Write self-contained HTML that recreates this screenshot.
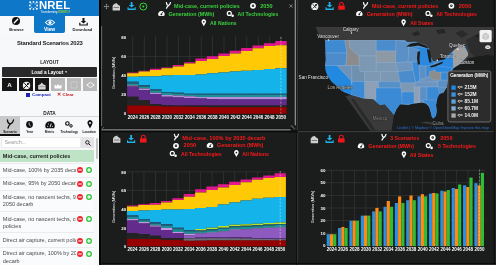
<!DOCTYPE html>
<html><head><meta charset="utf-8">
<style>
*{box-sizing:border-box}
html,body{margin:0;padding:0}
body{width:496px;height:265px;overflow:hidden;position:relative;background:#161616;font-family:"Liberation Sans",sans-serif}
#wrap{position:absolute;left:0;top:0;width:496px;height:265px;filter:blur(0.3px)}
.a{position:absolute}
.t{position:absolute;white-space:nowrap;line-height:1}
svg{position:absolute;overflow:visible}
#sb{left:0;top:0;width:99px;height:265px;background:#f7f8fa;overflow:hidden}
.row{position:absolute;left:0;width:94px;border-top:0.7px solid #ebecee;background:#fafbfc}
.rt{position:absolute;left:2.8px;width:92px;font-size:5.5px;line-height:7.3px;color:#4a4a4a;white-space:normal}
.ic{position:absolute;width:17px;height:8px;background:#fafbfc}
.rd{position:absolute;width:6px;height:6px;border-radius:50%;background:#f0222a}
.gr{position:absolute;width:6px;height:6px;border-radius:50%;background:#33c23b}
.rd:after{content:"";position:absolute;left:1.3px;top:2.45px;width:3.4px;height:1.1px;background:#fff}
.gr:after{content:"";position:absolute;left:1.2px;top:2.4px;width:3.6px;height:1.2px;background:#fff}
.gr:before{content:"";position:absolute;left:2.4px;top:1.2px;width:1.2px;height:3.6px;background:#fff}
.pn{position:absolute;background:#1e1e1e}
.ttl{position:absolute;white-space:nowrap;line-height:1;font-size:5.5px;font-weight:bold}
.lab{position:absolute;white-space:nowrap;line-height:1;font-size:4.6px;font-weight:bold;color:#fff}
</style></head>
<body>
<div id="wrap">
<!-- SIDEBAR -->
<div id="sb" class="a">
  <div class="a" style="left:0;top:0;width:99px;height:15.5px;background:#0f77c8"></div>
  <!-- NREL logo -->
  <svg style="left:29px;top:1px" width="9" height="9" viewBox="0 0 9 9"><g fill="#fff">
<circle cx="1.2" cy="1.2" r="1"/><circle cx="4.5" cy="0.9" r="0.9"/><circle cx="7.8" cy="1.2" r="1"/>
<circle cx="0.9" cy="4.5" r="0.9"/><circle cx="8.1" cy="4.5" r="0.9"/>
<circle cx="1.2" cy="7.8" r="1"/><circle cx="4.5" cy="8.1" r="0.9"/><circle cx="7.8" cy="7.8" r="1"/>
<circle cx="2.8" cy="2.8" r="0.55"/><circle cx="6.2" cy="2.8" r="0.55"/><circle cx="2.8" cy="6.2" r="0.55"/><circle cx="6.2" cy="6.2" r="0.55"/>
</g></svg>
  <div class="t" style="left:38.9px;top:-0.3px;font-size:11.3px;font-weight:bold;color:#fff;letter-spacing:0.15px">NREL</div>
  <div class="t" style="left:40.5px;top:10.6px;font-size:2.9px;color:#fff">Transforming <span style="color:#8dc63f;font-weight:bold">ENERGY</span></div>
  <!-- tabs -->
  <div class="a" style="left:0;top:15.5px;width:99px;height:18px;background:#f8f9fa"></div>
  <div class="a" style="left:33.8px;top:15px;width:31.6px;height:18px;background:#0f77c8;border-radius:0 0 2px 2px"></div>
  <svg style="left:11.8px;top:17px" width="8" height="8" viewBox="0 0 8 8"><circle cx="4" cy="4" r="4" fill="#111"/><path d="M2.3 5.7 L5.7 2.3" stroke="#fff" stroke-width="1.4" stroke-linecap="round"/></svg>
  <div class="t" style="left:0;width:33px;text-align:center;top:27.9px;font-size:4.0px;font-weight:bold;color:#1a1a1a">Browse</div>
  <svg style="left:45px;top:18.6px" width="10" height="7" viewBox="0 0 10 7"><path d="M0.4 3.5 Q5 -1.5 9.6 3.5 Q5 8.5 0.4 3.5Z" fill="none" stroke="#fff" stroke-width="1.1"/><circle cx="5" cy="3.5" r="1.6" fill="#fff"/></svg>
  <div class="t" style="left:33.8px;width:31.6px;text-align:center;top:27px;font-size:5px;font-weight:bold;color:#fff">View</div>
  <svg style="left:78.7px;top:17.5px" width="9" height="8" viewBox="0 0 9 8"><path d="M3.5 0 H5.5 V3 H7.3 L4.5 5.6 L1.7 3 H3.5Z" fill="#111"/><path d="M0.2 4.8 V7.6 H8.8 V4.8 H7.6 V6.4 H1.4 V4.8Z" fill="#111"/></svg>
  <div class="t" style="left:66px;width:33px;text-align:center;top:27.9px;font-size:4.15px;font-weight:bold;color:#1a1a1a">Download</div>

  <div class="t" style="left:17.1px;top:40.7px;font-size:5.9px;font-weight:bold;color:#222;letter-spacing:-0.2px">Standard Scenarios 2023</div>
  <div class="t" style="left:0;width:99px;text-align:center;top:60.8px;font-size:4.65px;font-weight:bold;color:#1a1a1a">LAYOUT</div>
  <div class="a" style="left:1.7px;top:67px;width:95.8px;height:9.6px;background:#2a2a2a;border-radius:1px"></div>
  <div class="t" style="left:1.7px;width:95.8px;text-align:center;top:70.5px;font-size:4.7px;font-weight:bold;color:#fff">Load a Layout <span style="font-size:3.2px;position:relative;top:-0.6px">▼</span></div>
  <!-- layout buttons -->
  <div class="a" style="left:2.3px;top:78.3px;width:14.6px;height:13.2px;background:#161616"></div>
  <div class="a" style="left:18.6px;top:78.3px;width:14.4px;height:13.2px;background:#161616"></div>
  <div class="a" style="left:34.5px;top:78.3px;width:14.6px;height:13.2px;background:#161616"></div>
  <div class="a" style="left:50.8px;top:78.3px;width:14.4px;height:13.2px;background:#b9b9b9"></div>
  <div class="a" style="left:66.7px;top:78.3px;width:14.2px;height:13.2px;background:#b9b9b9"></div>
  <div class="a" style="left:82.5px;top:78.3px;width:14.7px;height:13.2px;background:#b9b9b9"></div>
  <div class="t" style="left:2.3px;width:14.6px;text-align:center;top:81.8px;font-size:6.2px;font-weight:bold;color:#fff">A</div>
  <svg style="left:21.6px;top:80.8px" width="9" height="9" viewBox="0 0 9 9"><circle cx="4.5" cy="4.5" r="3.7" fill="#f0f0f0"/><path d="M2 7 L7 2 M2.3 2.2 L6.2 6.4" stroke="#161616" stroke-width="1"/><circle cx="5.8" cy="3.1" r="1" fill="#161616"/></svg>
  <svg style="left:38.2px;top:81.6px" width="8" height="8" viewBox="0 0 8 8"><path d="M0.2 7.6 V3.2 L2.4 2.2 L3.8 0.4 L5.2 2.2 L7.6 3.2 V7.6 Z" fill="#d6d6d6"/><rect x="1" y="4.4" width="5.8" height="0.7" fill="#888"/></svg>
  <svg style="left:54px;top:81px" width="8" height="8" viewBox="0 0 8 8"><path d="M0.5 7.5 V3.5 L2.5 5 L4 3 L5.5 5 L7.5 3.5 V7.5Z" fill="#fff"/></svg>
  <svg style="left:70px;top:81px" width="8" height="8" viewBox="0 0 8 8"><rect x="1" y="1" width="6" height="6" fill="none" stroke="#d6d6d6" stroke-width="0.6"/></svg>
  <svg style="left:85.5px;top:81px" width="9" height="8" viewBox="0 0 9 8"><path d="M0.8 4 L4.5 1.3 L8.2 4 L4.5 6.7Z" fill="none" stroke="#fff" stroke-width="0.9"/></svg>
  <div class="a" style="left:25.8px;top:93.2px;width:3.8px;height:3.6px;background:#1a24b8"></div>
  <div class="t" style="left:32px;top:93.1px;font-size:4.4px;font-weight:bold;color:#1a24b8">Compact</div>
  <div class="t" style="left:57.4px;top:92.9px;font-size:4.6px;font-weight:bold;color:#c0161c">✕</div>
  <div class="t" style="left:62.6px;top:93.1px;font-size:4.4px;font-weight:bold;color:#c0161c">Clear</div>

  <div class="t" style="left:0;width:99px;text-align:center;top:111.9px;font-size:4.7px;font-weight:bold;color:#1a1a1a">DATA</div>
  <div class="a" style="left:0;top:116.3px;width:99px;height:0.8px;background:#d6d6d8"></div>
  <!-- data tabs -->
  <div class="a" style="left:0;top:116.3px;width:19.8px;height:18px;background:#c9c9c9"></div>
  <div class="a" style="left:0;top:134px;width:19.8px;height:1.7px;background:#111"></div>
  <svg style="left:5.8px;top:118.6px" width="9" height="10" viewBox="0 0 9 10"><path d="M1.4 0.8 Q1.4 4.2 4.2 5.2 M7.6 0.8 Q7 4 4.2 5.2 Q2.4 6.6 2 9.2" fill="none" stroke="#111" stroke-width="1.3" stroke-linecap="round"/></svg>
  <svg style="left:26.4px;top:121.4px" width="7" height="7" viewBox="0 0 7 7"><circle cx="3.5" cy="3.5" r="3.4" fill="#111"/><path d="M3.2 1.5 V3.8 L4.8 5" stroke="#fff" stroke-width="0.7" fill="none"/></svg>
  <svg style="left:44.8px;top:120.6px" width="10" height="8" viewBox="0 0 10 8"><path d="M0.9 7.2 A4.7 4.7 0 1 1 9.1 7.2 Z" fill="#111"/><circle cx="2.6" cy="5.2" r="0.55" fill="#f4f4f4"/><circle cx="3.4" cy="3" r="0.55" fill="#f4f4f4"/><circle cx="7.4" cy="5.2" r="0.55" fill="#f4f4f4"/><path d="M5 6.2 L6.3 2.6" stroke="#f4f4f4" stroke-width="0.9"/></svg>
  <svg style="left:65.4px;top:121px" width="8" height="7" viewBox="0 0 8 7"><circle cx="2.4" cy="2.5" r="1.75" fill="none" stroke="#111" stroke-width="1.2"/><circle cx="6" cy="4.9" r="1.25" fill="none" stroke="#111" stroke-width="1"/></svg>
  <svg style="left:86.6px;top:120px" width="6" height="9" viewBox="0 0 6 9"><path d="M3 8.5 L0.8 4.2 A2.6 2.6 0 1 1 5.2 4.2Z" fill="#111"/><circle cx="3" cy="3" r="1" fill="#f4f4f6"/></svg>
  <div class="t" style="left:0;width:19.8px;text-align:center;top:131.4px;font-size:3.2px;font-weight:bold;color:#151515">Scenario</div>
  <div class="t" style="left:19.8px;width:19.8px;text-align:center;top:131.4px;font-size:3.2px;font-weight:bold;color:#151515">Year</div>
  <div class="t" style="left:39.6px;width:19.8px;text-align:center;top:131.4px;font-size:3.2px;font-weight:bold;color:#151515">Metric</div>
  <div class="t" style="left:59.4px;width:19.8px;text-align:center;top:131.4px;font-size:3.2px;font-weight:bold;color:#151515">Technology</div>
  <div class="t" style="left:79.2px;width:19.8px;text-align:center;top:131.4px;font-size:3.2px;font-weight:bold;color:#151515">Location</div>
  <!-- search -->
  <div class="a" style="left:0.5px;top:136.8px;width:80px;height:11.2px;background:#fff;border:0.5px solid #ececee"></div>
  <div class="t" style="left:4.4px;top:139.6px;font-size:5.5px;color:#9a9a9a">Search...</div>
  <div class="a" style="left:80.5px;top:136.8px;width:13px;height:11.2px;background:#e4e4e6"></div>
  <svg style="left:84.7px;top:139.8px" width="6" height="6" viewBox="0 0 6 6"><circle cx="2.4" cy="2.4" r="1.7" fill="none" stroke="#111" stroke-width="0.9"/><path d="M3.6 3.6 L5.5 5.5" stroke="#111" stroke-width="1"/></svg>
  <div class="a" style="left:95.7px;top:138.1px;width:2.1px;height:20.5px;background:#c4c4c4;border-radius:1px"></div>
  <!-- list -->
  <div class="a" style="left:0;top:149.8px;width:93.5px;height:12.6px;background:#bee3c6"></div>
  <div class="t" style="left:2.8px;top:153.8px;font-size:5.5px;font-weight:bold;color:#222">Mid-case, current policies</div>

  <div class="row" style="top:162.5px;height:14px"></div>
  <div class="rt" style="top:167px">Mid-case, 100% by 2035 decarb</div>
  <div class="row" style="top:176.5px;height:13.5px"></div>
  <div class="rt" style="top:180.1px">Mid-case, 95% by 2050 decarb</div>
  <div class="row" style="top:190px;height:21px"></div>
  <div class="rt" style="top:193.9px">Mid-case, no nascent techs, 95% by 2050 decarb</div>
  <div class="row" style="top:211px;height:21px"></div>
  <div class="rt" style="top:215.5px">Mid-case, no nascent techs, current policies</div>
  <div class="row" style="top:232px;height:14.5px"></div>
  <div class="rt" style="top:237px">Direct air capture, current policies</div>
  <div class="row" style="top:246.5px;height:20px"></div>
  <div class="rt" style="top:250.4px">Direct air capture, 100% by 2035 decarb</div>

  <div class="ic" style="left:75.5px;top:166.2px"></div><svg style="left:77.2px;top:167.2px" width="6" height="6" viewBox="0 0 6 6"><circle cx="3" cy="3" r="2.95" fill="#f0222a"/><rect x="1.3" y="2.45" width="3.4" height="1.1" fill="#fff"/></svg><svg style="left:86.1px;top:167.2px" width="6" height="6" viewBox="0 0 6 6"><circle cx="3" cy="3" r="2.95" fill="#33c23b"/><rect x="1.2" y="2.4" width="3.6" height="1.2" fill="#fff"/><rect x="2.4" y="1.2" width="1.2" height="3.6" fill="#fff"/></svg>
  <div class="ic" style="left:75.5px;top:179.8px"></div><svg style="left:77.2px;top:180.8px" width="6" height="6" viewBox="0 0 6 6"><circle cx="3" cy="3" r="2.95" fill="#f0222a"/><rect x="1.3" y="2.45" width="3.4" height="1.1" fill="#fff"/></svg><svg style="left:86.1px;top:180.8px" width="6" height="6" viewBox="0 0 6 6"><circle cx="3" cy="3" r="2.95" fill="#33c23b"/><rect x="1.2" y="2.4" width="3.6" height="1.2" fill="#fff"/><rect x="2.4" y="1.2" width="1.2" height="3.6" fill="#fff"/></svg>
  <div class="ic" style="left:75.5px;top:193.4px"></div><svg style="left:77.2px;top:194.4px" width="6" height="6" viewBox="0 0 6 6"><circle cx="3" cy="3" r="2.95" fill="#f0222a"/><rect x="1.3" y="2.45" width="3.4" height="1.1" fill="#fff"/></svg><svg style="left:86.1px;top:194.4px" width="6" height="6" viewBox="0 0 6 6"><circle cx="3" cy="3" r="2.95" fill="#33c23b"/><rect x="1.2" y="2.4" width="3.6" height="1.2" fill="#fff"/><rect x="2.4" y="1.2" width="1.2" height="3.6" fill="#fff"/></svg>
  <div class="ic" style="left:75.5px;top:215.0px"></div><svg style="left:77.2px;top:216.0px" width="6" height="6" viewBox="0 0 6 6"><circle cx="3" cy="3" r="2.95" fill="#f0222a"/><rect x="1.3" y="2.45" width="3.4" height="1.1" fill="#fff"/></svg><svg style="left:86.1px;top:216.0px" width="6" height="6" viewBox="0 0 6 6"><circle cx="3" cy="3" r="2.95" fill="#33c23b"/><rect x="1.2" y="2.4" width="3.6" height="1.2" fill="#fff"/><rect x="2.4" y="1.2" width="1.2" height="3.6" fill="#fff"/></svg>
  <div class="ic" style="left:75.5px;top:236.5px"></div><svg style="left:77.2px;top:237.5px" width="6" height="6" viewBox="0 0 6 6"><circle cx="3" cy="3" r="2.95" fill="#f0222a"/><rect x="1.3" y="2.45" width="3.4" height="1.1" fill="#fff"/></svg><svg style="left:86.1px;top:237.5px" width="6" height="6" viewBox="0 0 6 6"><circle cx="3" cy="3" r="2.95" fill="#33c23b"/><rect x="1.2" y="2.4" width="3.6" height="1.2" fill="#fff"/><rect x="2.4" y="1.2" width="1.2" height="3.6" fill="#fff"/></svg>
  <div class="ic" style="left:75.5px;top:249.6px"></div><svg style="left:77.2px;top:250.6px" width="6" height="6" viewBox="0 0 6 6"><circle cx="3" cy="3" r="2.95" fill="#f0222a"/><rect x="1.3" y="2.45" width="3.4" height="1.1" fill="#fff"/></svg><svg style="left:86.1px;top:250.6px" width="6" height="6" viewBox="0 0 6 6"><circle cx="3" cy="3" r="2.95" fill="#33c23b"/><rect x="1.2" y="2.4" width="3.6" height="1.2" fill="#fff"/><rect x="2.4" y="1.2" width="1.2" height="3.6" fill="#fff"/></svg>
</div>
<div class="a" style="left:99px;top:0;width:2px;height:265px;background:#050505"></div>

<!-- PANELS_START -->
<svg style="left:0;top:0" width="496" height="265" viewBox="0 0 496 265" font-family="Liberation Sans, sans-serif">
<rect x="101" y="0" width="395" height="265" fill="#1b1c1c"/>
<rect x="297.1" y="0" width="1" height="265" fill="#3a3a3a"/>
<rect x="101" y="127.9" width="194" height="1" fill="#0e0e0e"/>
<rect x="101" y="130.5" width="395" height="2" fill="#0c0c0c"/>
<rect x="298" y="131.2" width="198" height="1" fill="#4a4a4a"/>
<rect x="101" y="128.9" width="189.6" height="1.6" fill="#6e6e6e"/>
<rect x="294.7" y="0" width="1.3" height="125.3" fill="#8a8a8a"/>
<path d="M291 125.3 L294.7 129.2" stroke="#8a8a8a" stroke-width="1"/>
<rect x="494" y="0" width="2" height="265" fill="#222"/>
<rect x="493.8" y="0" width="0.9" height="265" fill="#080808"/>
<rect x="101" y="263" width="395" height="2" fill="#262626"/>
<rect x="101" y="262.9" width="395" height="0.9" fill="#080808"/>
<rect x="296.3" y="132" width="0.8" height="133" fill="#0a0a0a"/>
<rect x="101.4" y="0" width="0.7" height="265" fill="#242424"/>
<rect x="101.1" y="26" width="1" height="100" fill="#6a6a6a"/>
<path d="M101.8 129.2 L104 127" stroke="#6a6a6a" stroke-width="0.8"/>
<path d="M103.9 6.5 H109.1 M106.5 3.9 V9.1" stroke="#9a9a9a" stroke-width="0.7"/><path d="M103.7 6.5 l1 -1 v2z M109.3 6.5 l-1 -1 v2z M106.5 3.7 l-1 1 h2z M106.5 9.3 l-1 -1 h2z" fill="#9a9a9a"/>
<g transform="translate(112.6,3)"><path d="M0 7.4 V3 L1.4 1 L4.5 0 L4.5 1 L7.4 3 V7.4 Z" fill="#cfcfcf"/><rect x="1" y="4.2" width="5.4" height="0.8" fill="#666"/></g>
<g transform="translate(127.5,2)"><path d="M3.2 0 H5 V3 H7 L4.1 5.6 L1.2 3 H3.2Z" fill="#1fb3ec"/><path d="M0 5.2 V8 H8.2 V5.2 H7.1 V6.5 H1.1 V5.2Z" fill="#1fb3ec"/></g>
<circle cx="143.3" cy="6.5" r="3.5" fill="none" stroke="#3ad23e" stroke-width="1"/><circle cx="143.3" cy="6.5" r="1.1" fill="#3ad23e"/>
<path d="M166.4 2.5999999999999996 Q166.6 5.0 168.3 5.699999999999999 M170.5 2.5999999999999996 Q169.9 4.8 168.3 5.699999999999999 Q167.1 6.6 166.5 8.2" fill="none" stroke="#fff" stroke-width="1.25" stroke-linecap="round"/>
<text x="174.1" y="7.550000000000001" font-size="5.5" font-weight="bold" fill="#3ad23e" text-anchor="start"  textLength="65.6" lengthAdjust="spacingAndGlyphs">Mid-case, current policies</text>
<circle cx="253" cy="5.8" r="2.9" fill="#fff"/><circle cx="253" cy="5.8" r="1.25" fill="#1b1c1c"/><circle cx="253" cy="5.8" r="0.45" fill="#fff"/>
<text x="260.2" y="7.550000000000001" font-size="5.5" font-weight="bold" fill="#3ad23e" text-anchor="start"  textLength="12.4" lengthAdjust="spacingAndGlyphs">2050</text>
<path d="M289.4 4.4 L292.6 7.6 M292.6 4.4 L289.4 7.6" stroke="#9a9a9a" stroke-width="0.75"/>
<path d="M158.3 15.4 A3.3 3.3 0 1 1 164.5 15.4 Q161.4 16.8 158.3 15.4Z" fill="#fff"/><circle cx="161.4" cy="14.4" r="0.9" fill="#1b1c1c"/><path d="M161.4 14.4 L162.70000000000002 12.0" stroke="#1b1c1c" stroke-width="0.8"/>
<text x="168.4" y="15.750000000000002" font-size="5.5" font-weight="bold" fill="#3ad23e" text-anchor="start"  textLength="46.0" lengthAdjust="spacingAndGlyphs">Generation (MWh)</text>
<circle cx="229.3" cy="13.399999999999999" r="2" fill="none" stroke="#fff" stroke-width="1.2"/><circle cx="232.6" cy="15.7" r="1.3" fill="#fff"/>
<text x="237.6" y="15.750000000000002" font-size="5.5" font-weight="bold" fill="#3ad23e" text-anchor="start"  textLength="40.7" lengthAdjust="spacingAndGlyphs">All Technologies</text>
<path d="M203.8 26.3 L201.8 22.7 A2.3 2.3 0 1 1 205.8 22.7 Z" fill="#fff"/><circle cx="203.8" cy="21.8" r="0.85" fill="#1b1c1c"/>
<text x="210" y="25.15" font-size="5.5" font-weight="bold" fill="#3ad23e" text-anchor="start"  textLength="26.7" lengthAdjust="spacingAndGlyphs">All Nations</text>
<rect x="132.50" y="36.2" width="0.6" height="77.5" fill="#3a3a3a"/>
<rect x="143.90" y="36.2" width="0.6" height="77.5" fill="#3a3a3a"/>
<rect x="155.30" y="36.2" width="0.6" height="77.5" fill="#3a3a3a"/>
<rect x="166.70" y="36.2" width="0.6" height="77.5" fill="#3a3a3a"/>
<rect x="178.10" y="36.2" width="0.6" height="77.5" fill="#3a3a3a"/>
<rect x="189.50" y="36.2" width="0.6" height="77.5" fill="#3a3a3a"/>
<rect x="200.90" y="36.2" width="0.6" height="77.5" fill="#3a3a3a"/>
<rect x="212.30" y="36.2" width="0.6" height="77.5" fill="#3a3a3a"/>
<rect x="223.70" y="36.2" width="0.6" height="77.5" fill="#3a3a3a"/>
<rect x="235.10" y="36.2" width="0.6" height="77.5" fill="#3a3a3a"/>
<rect x="246.50" y="36.2" width="0.6" height="77.5" fill="#3a3a3a"/>
<rect x="257.90" y="36.2" width="0.6" height="77.5" fill="#3a3a3a"/>
<rect x="269.30" y="36.2" width="0.6" height="77.5" fill="#3a3a3a"/>
<rect x="280.70" y="36.2" width="0.6" height="77.5" fill="#3a3a3a"/>
<rect x="127.1" y="56.1" width="159.6" height="0.6" fill="#3a3a3a"/>
<rect x="127.1" y="75.0" width="159.6" height="0.6" fill="#3a3a3a"/>
<rect x="127.1" y="93.9" width="159.6" height="0.6" fill="#3a3a3a"/>
<path d="M127.1 72.5 L138.5 72.5 L138.5 70.7 L149.9 70.7 L149.9 68.7 L161.3 68.7 L161.3 67.4 L172.7 67.4 L172.7 65.1 L184.1 65.1 L184.1 62.3 L195.5 62.3 L195.5 58.6 L206.9 58.6 L206.9 56.2 L218.3 56.2 L218.3 53.4 L229.7 53.4 L229.7 50.7 L241.1 50.7 L241.1 47.9 L252.5 47.9 L252.5 45.6 L263.9 45.6 L263.9 43.2 L275.3 43.2 L275.3 41.0 L286.7 41.0 L286.7 45.3 L275.3 45.3 L275.3 46.1 L263.9 46.1 L263.9 48.3 L252.5 48.3 L252.5 51.0 L241.1 51.0 L241.1 53.4 L229.7 53.4 L229.7 55.9 L218.3 55.9 L218.3 59.0 L206.9 59.0 L206.9 60.9 L195.5 60.9 L195.5 63.6 L184.1 63.6 L184.1 66.5 L172.7 66.5 L172.7 68.2 L161.3 68.2 L161.3 69.9 L149.9 69.9 L149.9 71.6 L138.5 71.6 L138.5 73.3 L127.1 73.3Z" fill="#e2178f"/>
<path d="M127.1 73.3 L138.5 73.3 L138.5 71.6 L149.9 71.6 L149.9 69.9 L161.3 69.9 L161.3 68.2 L172.7 68.2 L172.7 66.5 L184.1 66.5 L184.1 63.6 L195.5 63.6 L195.5 60.9 L206.9 60.9 L206.9 59.0 L218.3 59.0 L218.3 55.9 L229.7 55.9 L229.7 53.4 L241.1 53.4 L241.1 51.0 L252.5 51.0 L252.5 48.3 L263.9 48.3 L263.9 46.1 L275.3 46.1 L275.3 45.3 L286.7 45.3 L286.7 68.2 L275.3 68.2 L275.3 69.0 L263.9 69.0 L263.9 69.9 L252.5 69.9 L252.5 70.7 L241.1 70.7 L241.1 71.6 L229.7 71.6 L229.7 72.4 L218.3 72.4 L218.3 73.3 L206.9 73.3 L206.9 74.5 L195.5 74.5 L195.5 74.9 L184.1 74.9 L184.1 75.1 L172.7 75.1 L172.7 75.6 L161.3 75.6 L161.3 76.2 L149.9 76.2 L149.9 76.5 L138.5 76.5 L138.5 76.7 L127.1 76.7Z" fill="#ffc905"/>
<path d="M127.1 76.7 L138.5 76.7 L138.5 76.5 L149.9 76.5 L149.9 76.2 L161.3 76.2 L161.3 75.6 L172.7 75.6 L172.7 75.1 L184.1 75.1 L184.1 74.9 L195.5 74.9 L195.5 74.5 L206.9 74.5 L206.9 73.3 L218.3 73.3 L218.3 72.4 L229.7 72.4 L229.7 71.6 L241.1 71.6 L241.1 70.7 L252.5 70.7 L252.5 69.9 L263.9 69.9 L263.9 69.0 L275.3 69.0 L275.3 68.2 L286.7 68.2 L286.7 93.7 L275.3 93.7 L275.3 93.7 L263.9 93.7 L263.9 93.7 L252.5 93.7 L252.5 93.7 L241.1 93.7 L241.1 93.7 L229.7 93.7 L229.7 93.7 L218.3 93.7 L218.3 93.7 L206.9 93.7 L206.9 93.7 L195.5 93.7 L195.5 93.7 L184.1 93.7 L184.1 92.8 L172.7 92.8 L172.7 92.0 L161.3 92.0 L161.3 88.9 L149.9 88.9 L149.9 85.2 L138.5 85.2 L138.5 81.8 L127.1 81.8Z" fill="#14b4ea"/>
<path d="M127.1 81.8 L138.5 81.8 L138.5 85.2 L149.9 85.2 L149.9 88.9 L161.3 88.9 L161.3 92.0 L172.7 92.0 L172.7 92.8 L184.1 92.8 L184.1 93.7 L195.5 93.7 L195.5 93.7 L206.9 93.7 L206.9 93.7 L218.3 93.7 L218.3 93.7 L229.7 93.7 L229.7 93.7 L241.1 93.7 L241.1 93.7 L252.5 93.7 L252.5 93.7 L263.9 93.7 L263.9 93.7 L275.3 93.7 L275.3 93.7 L286.7 93.7 L286.7 95.0 L275.3 95.0 L275.3 95.0 L263.9 95.0 L263.9 95.0 L252.5 95.0 L252.5 95.0 L241.1 95.0 L241.1 95.0 L229.7 95.0 L229.7 95.0 L218.3 95.0 L218.3 95.0 L206.9 95.0 L206.9 95.0 L195.5 95.0 L195.5 94.5 L184.1 94.5 L184.1 93.8 L172.7 93.8 L172.7 93.0 L161.3 93.0 L161.3 90.6 L149.9 90.6 L149.9 86.5 L138.5 86.5 L138.5 83.5 L127.1 83.5Z" fill="#1d5d80"/>
<path d="M127.1 83.5 L138.5 83.5 L138.5 86.5 L149.9 86.5 L149.9 90.6 L161.3 90.6 L161.3 93.0 L172.7 93.0 L172.7 93.8 L184.1 93.8 L184.1 94.5 L195.5 94.5 L195.5 95.0 L206.9 95.0 L206.9 95.0 L218.3 95.0 L218.3 95.0 L229.7 95.0 L229.7 95.0 L241.1 95.0 L241.1 95.0 L252.5 95.0 L252.5 95.0 L263.9 95.0 L263.9 95.0 L275.3 95.0 L275.3 95.0 L286.7 95.0 L286.7 97.0 L275.3 97.0 L275.3 97.0 L263.9 97.0 L263.9 97.0 L252.5 97.0 L252.5 97.0 L241.1 97.0 L241.1 97.0 L229.7 97.0 L229.7 97.0 L218.3 97.0 L218.3 97.0 L206.9 97.0 L206.9 97.0 L195.5 97.0 L195.5 96.2 L184.1 96.2 L184.1 95.4 L172.7 95.4 L172.7 95.0 L161.3 95.0 L161.3 92.8 L149.9 92.8 L149.9 88.6 L138.5 88.6 L138.5 85.5 L127.1 85.5Z" fill="#1f8f96"/>
<path d="M127.1 85.5 L138.5 85.5 L138.5 88.6 L149.9 88.6 L149.9 92.8 L161.3 92.8 L161.3 95.0 L172.7 95.0 L172.7 95.4 L184.1 95.4 L184.1 96.2 L195.5 96.2 L195.5 97.0 L206.9 97.0 L206.9 97.0 L218.3 97.0 L218.3 97.0 L229.7 97.0 L229.7 97.0 L241.1 97.0 L241.1 97.0 L252.5 97.0 L252.5 97.0 L263.9 97.0 L263.9 97.0 L275.3 97.0 L275.3 97.0 L286.7 97.0 L286.7 99.6 L275.3 99.6 L275.3 99.6 L263.9 99.6 L263.9 99.6 L252.5 99.6 L252.5 99.6 L241.1 99.6 L241.1 99.5 L229.7 99.5 L229.7 99.4 L218.3 99.4 L218.3 99.2 L206.9 99.2 L206.9 98.6 L195.5 98.6 L195.5 97.9 L184.1 97.9 L184.1 97.4 L172.7 97.4 L172.7 96.7 L161.3 96.7 L161.3 94.0 L149.9 94.0 L149.9 90.3 L138.5 90.3 L138.5 86.5 L127.1 86.5Z" fill="#b58fdc"/>
<path d="M127.1 86.5 L138.5 86.5 L138.5 90.3 L149.9 90.3 L149.9 94.0 L161.3 94.0 L161.3 96.7 L172.7 96.7 L172.7 97.4 L184.1 97.4 L184.1 97.9 L195.5 97.9 L195.5 98.6 L206.9 98.6 L206.9 99.2 L218.3 99.2 L218.3 99.4 L229.7 99.4 L229.7 99.5 L241.1 99.5 L241.1 99.6 L252.5 99.6 L252.5 99.6 L263.9 99.6 L263.9 99.6 L275.3 99.6 L275.3 99.6 L286.7 99.6 L286.7 105.6 L275.3 105.6 L275.3 105.6 L263.9 105.6 L263.9 105.6 L252.5 105.6 L252.5 105.6 L241.1 105.6 L241.1 105.6 L229.7 105.6 L229.7 105.6 L218.3 105.6 L218.3 105.6 L206.9 105.6 L206.9 105.6 L195.5 105.6 L195.5 105.6 L184.1 105.6 L184.1 105.6 L172.7 105.6 L172.7 105.2 L161.3 105.2 L161.3 103.9 L149.9 103.9 L149.9 100.1 L138.5 100.1 L138.5 96.7 L127.1 96.7Z" fill="#632b8c"/>
<path d="M127.1 96.7 L138.5 96.7 L138.5 100.1 L149.9 100.1 L149.9 103.9 L161.3 103.9 L161.3 105.2 L172.7 105.2 L172.7 105.6 L184.1 105.6 L184.1 105.6 L195.5 105.6 L195.5 105.6 L206.9 105.6 L206.9 105.6 L218.3 105.6 L218.3 105.6 L229.7 105.6 L229.7 105.6 L241.1 105.6 L241.1 105.6 L252.5 105.6 L252.5 105.6 L263.9 105.6 L263.9 105.6 L275.3 105.6 L275.3 105.6 L286.7 105.6 L286.7 107.3 L275.3 107.3 L275.3 107.3 L263.9 107.3 L263.9 107.3 L252.5 107.3 L252.5 107.3 L241.1 107.3 L241.1 107.3 L229.7 107.3 L229.7 107.3 L218.3 107.3 L218.3 107.2 L206.9 107.2 L206.9 107.0 L195.5 107.0 L195.5 106.8 L184.1 106.8 L184.1 106.6 L172.7 106.6 L172.7 106.4 L161.3 106.4 L161.3 106.1 L149.9 106.1 L149.9 105.6 L138.5 105.6 L138.5 105.6 L127.1 105.6Z" fill="#242424"/>
<path d="M127.1 105.6 L138.5 105.6 L138.5 105.6 L149.9 105.6 L149.9 106.1 L161.3 106.1 L161.3 106.4 L172.7 106.4 L172.7 106.6 L184.1 106.6 L184.1 106.8 L195.5 106.8 L195.5 107.0 L206.9 107.0 L206.9 107.2 L218.3 107.2 L218.3 107.3 L229.7 107.3 L229.7 107.3 L241.1 107.3 L241.1 107.3 L252.5 107.3 L252.5 107.3 L263.9 107.3 L263.9 107.3 L275.3 107.3 L275.3 107.3 L286.7 107.3 L286.7 113.7 L275.3 113.7 L275.3 113.7 L263.9 113.7 L263.9 113.7 L252.5 113.7 L252.5 113.7 L241.1 113.7 L241.1 113.7 L229.7 113.7 L229.7 113.7 L218.3 113.7 L218.3 113.7 L206.9 113.7 L206.9 113.7 L195.5 113.7 L195.5 113.7 L184.1 113.7 L184.1 113.7 L172.7 113.7 L172.7 113.7 L161.3 113.7 L161.3 113.7 L149.9 113.7 L149.9 113.7 L138.5 113.7 L138.5 113.7 L127.1 113.7Z" fill="#960000"/>
<path d="M280.9 37 V113.7" stroke="#e8e8e8" stroke-width="0.6" stroke-dasharray="2 1.4" opacity="0.8"/>
<text x="126.2" y="39.1" font-size="4.4" font-weight="bold" fill="#fff" text-anchor="end" >80</text>
<text x="126.2" y="58.0" font-size="4.4" font-weight="bold" fill="#fff" text-anchor="end" >60</text>
<text x="126.2" y="76.89999999999999" font-size="4.4" font-weight="bold" fill="#fff" text-anchor="end" >40</text>
<text x="126.2" y="95.8" font-size="4.4" font-weight="bold" fill="#fff" text-anchor="end" >20</text>
<text x="126.2" y="115.0" font-size="4.4" font-weight="bold" fill="#fff" text-anchor="end" >0</text>
<text x="132.8" y="118.7" font-size="4.5" font-weight="bold" fill="#fff" text-anchor="middle" >2024</text>
<text x="144.2" y="118.7" font-size="4.5" font-weight="bold" fill="#fff" text-anchor="middle" >2026</text>
<text x="155.6" y="118.7" font-size="4.5" font-weight="bold" fill="#fff" text-anchor="middle" >2028</text>
<text x="167.0" y="118.7" font-size="4.5" font-weight="bold" fill="#fff" text-anchor="middle" >2030</text>
<text x="178.4" y="118.7" font-size="4.5" font-weight="bold" fill="#fff" text-anchor="middle" >2032</text>
<text x="189.8" y="118.7" font-size="4.5" font-weight="bold" fill="#fff" text-anchor="middle" >2034</text>
<text x="201.2" y="118.7" font-size="4.5" font-weight="bold" fill="#fff" text-anchor="middle" >2036</text>
<text x="212.6" y="118.7" font-size="4.5" font-weight="bold" fill="#fff" text-anchor="middle" >2038</text>
<text x="224.0" y="118.7" font-size="4.5" font-weight="bold" fill="#fff" text-anchor="middle" >2040</text>
<text x="235.4" y="118.7" font-size="4.5" font-weight="bold" fill="#fff" text-anchor="middle" >2042</text>
<text x="246.8" y="118.7" font-size="4.5" font-weight="bold" fill="#fff" text-anchor="middle" >2044</text>
<text x="258.2" y="118.7" font-size="4.5" font-weight="bold" fill="#fff" text-anchor="middle" >2046</text>
<text x="269.6" y="118.7" font-size="4.5" font-weight="bold" fill="#fff" text-anchor="middle" >2048</text>
<text x="281.0" y="118.7" font-size="4.5" font-weight="bold" fill="#fff" text-anchor="middle" >2050</text>
<text x="0" y="0" font-size="3.95" fill="#fff" text-anchor="middle" transform="translate(114.7 72.8) rotate(-90)">Generation (MWh)</text>
<g transform="translate(113,135.4)"><path d="M0 7.4 V3 L1.4 1 L4.5 0 L4.5 1 L7.4 3 V7.4 Z" fill="#cfcfcf"/><rect x="1" y="4.2" width="5.4" height="0.8" fill="#666"/></g>
<g transform="translate(127,135)"><path d="M3.2 0 H5 V3 H7 L4.1 5.6 L1.2 3 H3.2Z" fill="#1fb3ec"/><path d="M0 5.2 V8 H8.2 V5.2 H7.1 V6.5 H1.1 V5.2Z" fill="#1fb3ec"/></g>
<g transform="translate(139.6,134.8)"><path d="M1.8 3.4 V2.4 A1.9 1.9 0 0 1 5.6 2.4 V3.4" fill="none" stroke="#f0161b" stroke-width="1.1"/><rect x="0.4" y="3.4" width="6.6" height="4.4" rx="0.6" fill="#f0161b"/></g>
<path d="M174.4 134.3 Q174.6 136.70000000000002 176.3 137.4 M178.5 134.3 Q177.9 136.5 176.3 137.4 Q175.1 138.3 174.5 139.9" fill="none" stroke="#fff" stroke-width="1.25" stroke-linecap="round"/>
<text x="182.3" y="139.85" font-size="5.5" font-weight="bold" fill="#fa1a1a" text-anchor="start"  textLength="83.2" lengthAdjust="spacingAndGlyphs">Mid-case, 100% by 2035 decarb</text>
<circle cx="176" cy="145.8" r="2.9" fill="#fff"/><circle cx="176" cy="145.8" r="1.25" fill="#1b1c1c"/><circle cx="176" cy="145.8" r="0.45" fill="#fff"/>
<text x="183.6" y="147.45000000000002" font-size="5.5" font-weight="bold" fill="#fa1a1a" text-anchor="start"  textLength="12.6" lengthAdjust="spacingAndGlyphs">2050</text>
<path d="M206.9 147.29999999999998 A3.3 3.3 0 1 1 213.1 147.29999999999998 Q210 148.7 206.9 147.29999999999998Z" fill="#fff"/><circle cx="210" cy="146.29999999999998" r="0.9" fill="#1b1c1c"/><path d="M210 146.29999999999998 L211.3 143.89999999999998" stroke="#1b1c1c" stroke-width="0.8"/>
<text x="217.1" y="147.45000000000002" font-size="5.5" font-weight="bold" fill="#fa1a1a" text-anchor="start"  textLength="46.3" lengthAdjust="spacingAndGlyphs">Generation (MWh)</text>
<circle cx="172.3" cy="153.39999999999998" r="2" fill="none" stroke="#fff" stroke-width="1.2"/><circle cx="175.6" cy="155.7" r="1.3" fill="#fff"/>
<text x="181" y="155.95000000000002" font-size="5.5" font-weight="bold" fill="#fa1a1a" text-anchor="start"  textLength="40.7" lengthAdjust="spacingAndGlyphs">All Technologies</text>
<path d="M236.4 157.10000000000002 L234.4 153.5 A2.3 2.3 0 1 1 238.4 153.5 Z" fill="#fff"/><circle cx="236.4" cy="152.60000000000002" r="0.85" fill="#1b1c1c"/>
<text x="242.3" y="155.95000000000002" font-size="5.5" font-weight="bold" fill="#fa1a1a" text-anchor="start"  textLength="26.6" lengthAdjust="spacingAndGlyphs">All Nations</text>
<rect x="132.28" y="171.6" width="0.6" height="74.6" fill="#3a3a3a"/>
<rect x="143.64" y="171.6" width="0.6" height="74.6" fill="#3a3a3a"/>
<rect x="155.00" y="171.6" width="0.6" height="74.6" fill="#3a3a3a"/>
<rect x="166.36" y="171.6" width="0.6" height="74.6" fill="#3a3a3a"/>
<rect x="177.72" y="171.6" width="0.6" height="74.6" fill="#3a3a3a"/>
<rect x="189.08" y="171.6" width="0.6" height="74.6" fill="#3a3a3a"/>
<rect x="200.44" y="171.6" width="0.6" height="74.6" fill="#3a3a3a"/>
<rect x="211.80" y="171.6" width="0.6" height="74.6" fill="#3a3a3a"/>
<rect x="223.16" y="171.6" width="0.6" height="74.6" fill="#3a3a3a"/>
<rect x="234.52" y="171.6" width="0.6" height="74.6" fill="#3a3a3a"/>
<rect x="245.88" y="171.6" width="0.6" height="74.6" fill="#3a3a3a"/>
<rect x="257.24" y="171.6" width="0.6" height="74.6" fill="#3a3a3a"/>
<rect x="268.60" y="171.6" width="0.6" height="74.6" fill="#3a3a3a"/>
<rect x="279.96" y="171.6" width="0.6" height="74.6" fill="#3a3a3a"/>
<rect x="126.9" y="171.6" width="159" height="0.6" fill="#3a3a3a"/>
<rect x="126.9" y="190.29999999999998" width="159" height="0.6" fill="#3a3a3a"/>
<rect x="126.9" y="208.89999999999998" width="159" height="0.6" fill="#3a3a3a"/>
<rect x="126.9" y="227.6" width="159" height="0.6" fill="#3a3a3a"/>
<path d="M126.9 205.6 L138.3 205.6 L138.3 204.2 L149.6 204.2 L149.6 203.0 L161.0 203.0 L161.0 201.1 L172.3 201.1 L172.3 198.3 L183.7 198.3 L183.7 194.0 L195.1 194.0 L195.1 189.2 L206.4 189.2 L206.4 186.5 L217.8 186.5 L217.8 184.2 L229.1 184.2 L229.1 181.7 L240.5 181.7 L240.5 179.5 L251.9 179.5 L251.9 177.4 L263.2 177.4 L263.2 175.5 L274.6 175.5 L274.6 173.2 L285.9 173.2 L285.9 177.0 L274.6 177.0 L274.6 178.0 L263.2 178.0 L263.2 179.8 L251.9 179.8 L251.9 182.3 L240.5 182.3 L240.5 185.0 L229.1 185.0 L229.1 187.4 L217.8 187.4 L217.8 189.9 L206.4 189.9 L206.4 192.5 L195.1 192.5 L195.1 196.8 L183.7 196.8 L183.7 200.0 L172.3 200.0 L172.3 202.5 L161.0 202.5 L161.0 204.7 L149.6 204.7 L149.6 205.0 L138.3 205.0 L138.3 206.4 L126.9 206.4Z" fill="#e2178f"/>
<path d="M126.9 206.4 L138.3 206.4 L138.3 205.0 L149.6 205.0 L149.6 204.7 L161.0 204.7 L161.0 202.5 L172.3 202.5 L172.3 200.0 L183.7 200.0 L183.7 196.8 L195.1 196.8 L195.1 192.5 L206.4 192.5 L206.4 189.9 L217.8 189.9 L217.8 187.4 L229.1 187.4 L229.1 185.0 L240.5 185.0 L240.5 182.3 L251.9 182.3 L251.9 179.8 L263.2 179.8 L263.2 178.0 L274.6 178.0 L274.6 177.0 L285.9 177.0 L285.9 196.9 L274.6 196.9 L274.6 197.8 L263.2 197.8 L263.2 198.8 L251.9 198.8 L251.9 200.6 L240.5 200.6 L240.5 202.5 L229.1 202.5 L229.1 204.4 L217.8 204.4 L217.8 206.9 L206.4 206.9 L206.4 208.1 L195.1 208.1 L195.1 209.0 L183.7 209.0 L183.7 209.4 L172.3 209.4 L172.3 209.4 L161.0 209.4 L161.0 210.0 L149.6 210.0 L149.6 210.4 L138.3 210.4 L138.3 210.9 L126.9 210.9Z" fill="#ffc905"/>
<path d="M126.9 210.9 L138.3 210.9 L138.3 210.4 L149.6 210.4 L149.6 210.0 L161.0 210.0 L161.0 209.4 L172.3 209.4 L172.3 209.4 L183.7 209.4 L183.7 209.0 L195.1 209.0 L195.1 208.1 L206.4 208.1 L206.4 206.9 L217.8 206.9 L217.8 204.4 L229.1 204.4 L229.1 202.5 L240.5 202.5 L240.5 200.6 L251.9 200.6 L251.9 198.8 L263.2 198.8 L263.2 197.8 L274.6 197.8 L274.6 196.9 L285.9 196.9 L285.9 222.4 L274.6 222.4 L274.6 223.0 L263.2 223.0 L263.2 223.8 L251.9 223.8 L251.9 224.3 L240.5 224.3 L240.5 224.8 L229.1 224.8 L229.1 226.1 L217.8 226.1 L217.8 227.7 L206.4 227.7 L206.4 228.9 L195.1 228.9 L195.1 230.3 L183.7 230.3 L183.7 227.7 L172.3 227.7 L172.3 224.3 L161.0 224.3 L161.0 222.3 L149.6 222.3 L149.6 218.9 L138.3 218.9 L138.3 215.5 L126.9 215.5Z" fill="#14b4ea"/>
<path d="M126.9 215.5 L138.3 215.5 L138.3 218.9 L149.6 218.9 L149.6 222.3 L161.0 222.3 L161.0 224.3 L172.3 224.3 L172.3 227.7 L183.7 227.7 L183.7 230.3 L195.1 230.3 L195.1 228.9 L206.4 228.9 L206.4 227.7 L217.8 227.7 L217.8 226.1 L229.1 226.1 L229.1 224.8 L240.5 224.8 L240.5 224.3 L251.9 224.3 L251.9 223.8 L263.2 223.8 L263.2 223.0 L274.6 223.0 L274.6 222.4 L285.9 222.4 L285.9 224.0 L274.6 224.0 L274.6 224.5 L263.2 224.5 L263.2 225.2 L251.9 225.2 L251.9 225.7 L240.5 225.7 L240.5 226.2 L229.1 226.2 L229.1 227.7 L217.8 227.7 L217.8 229.3 L206.4 229.3 L206.4 230.5 L195.1 230.5 L195.1 230.3 L183.7 230.3 L183.7 227.7 L172.3 227.7 L172.3 224.3 L161.0 224.3 L161.0 222.3 L149.6 222.3 L149.6 218.9 L138.3 218.9 L138.3 215.5 L126.9 215.5Z" fill="#b9e02a"/>
<path d="M126.9 215.5 L138.3 215.5 L138.3 218.9 L149.6 218.9 L149.6 222.3 L161.0 222.3 L161.0 224.3 L172.3 224.3 L172.3 227.7 L183.7 227.7 L183.7 230.3 L195.1 230.3 L195.1 230.5 L206.4 230.5 L206.4 229.3 L217.8 229.3 L217.8 227.7 L229.1 227.7 L229.1 226.2 L240.5 226.2 L240.5 225.7 L251.9 225.7 L251.9 225.2 L263.2 225.2 L263.2 224.5 L274.6 224.5 L274.6 224.0 L285.9 224.0 L285.9 225.0 L274.6 225.0 L274.6 225.5 L263.2 225.5 L263.2 226.2 L251.9 226.2 L251.9 226.7 L240.5 226.7 L240.5 227.2 L229.1 227.2 L229.1 228.6 L217.8 228.6 L217.8 230.2 L206.4 230.2 L206.4 231.3 L195.1 231.3 L195.1 231.2 L183.7 231.2 L183.7 229.3 L172.3 229.3 L172.3 226.1 L161.0 226.1 L161.0 224.0 L149.6 224.0 L149.6 220.2 L138.3 220.2 L138.3 217.0 L126.9 217.0Z" fill="#1d5d80"/>
<path d="M126.9 217.0 L138.3 217.0 L138.3 220.2 L149.6 220.2 L149.6 224.0 L161.0 224.0 L161.0 226.1 L172.3 226.1 L172.3 229.3 L183.7 229.3 L183.7 231.2 L195.1 231.2 L195.1 231.3 L206.4 231.3 L206.4 230.2 L217.8 230.2 L217.8 228.6 L229.1 228.6 L229.1 227.2 L240.5 227.2 L240.5 226.7 L251.9 226.7 L251.9 226.2 L263.2 226.2 L263.2 225.5 L274.6 225.5 L274.6 225.0 L285.9 225.0 L285.9 227.3 L274.6 227.3 L274.6 227.7 L263.2 227.7 L263.2 228.3 L251.9 228.3 L251.9 229.0 L240.5 229.0 L240.5 229.6 L229.1 229.6 L229.1 231.3 L217.8 231.3 L217.8 232.5 L206.4 232.5 L206.4 233.1 L195.1 233.1 L195.1 233.7 L183.7 233.7 L183.7 231.9 L172.3 231.9 L172.3 228.0 L161.0 228.0 L161.0 225.6 L149.6 225.6 L149.6 222.0 L138.3 222.0 L138.3 218.9 L126.9 218.9Z" fill="#1f8f96"/>
<path d="M126.9 218.9 L138.3 218.9 L138.3 222.0 L149.6 222.0 L149.6 225.6 L161.0 225.6 L161.0 228.0 L172.3 228.0 L172.3 231.9 L183.7 231.9 L183.7 233.7 L195.1 233.7 L195.1 233.1 L206.4 233.1 L206.4 232.5 L217.8 232.5 L217.8 231.3 L229.1 231.3 L229.1 229.6 L240.5 229.6 L240.5 229.0 L251.9 229.0 L251.9 228.3 L263.2 228.3 L263.2 227.7 L274.6 227.7 L274.6 227.3 L285.9 227.3 L285.9 227.7 L274.6 227.7 L274.6 228.1 L263.2 228.1 L263.2 228.7 L251.9 228.7 L251.9 229.4 L240.5 229.4 L240.5 230.0 L229.1 230.0 L229.1 231.7 L217.8 231.7 L217.8 232.9 L206.4 232.9 L206.4 233.5 L195.1 233.5 L195.1 235.6 L183.7 235.6 L183.7 233.1 L172.3 233.1 L172.3 230.1 L161.0 230.1 L161.0 226.8 L149.6 226.8 L149.6 223.6 L138.3 223.6 L138.3 220.4 L126.9 220.4Z" fill="#c596e4"/>
<path d="M126.9 220.4 L138.3 220.4 L138.3 223.6 L149.6 223.6 L149.6 226.8 L161.0 226.8 L161.0 230.1 L172.3 230.1 L172.3 233.1 L183.7 233.1 L183.7 235.6 L195.1 235.6 L195.1 233.5 L206.4 233.5 L206.4 232.9 L217.8 232.9 L217.8 231.7 L229.1 231.7 L229.1 230.0 L240.5 230.0 L240.5 229.4 L251.9 229.4 L251.9 228.7 L263.2 228.7 L263.2 228.1 L274.6 228.1 L274.6 227.7 L285.9 227.7 L285.9 238.6 L274.6 238.6 L274.6 238.2 L263.2 238.2 L263.2 238.0 L251.9 238.0 L251.9 237.4 L240.5 237.4 L240.5 237.3 L229.1 237.3 L229.1 237.4 L217.8 237.4 L217.8 237.2 L206.4 237.2 L206.4 237.4 L195.1 237.4 L195.1 238.6 L183.7 238.6 L183.7 233.1 L172.3 233.1 L172.3 230.1 L161.0 230.1 L161.0 226.8 L149.6 226.8 L149.6 223.6 L138.3 223.6 L138.3 220.4 L126.9 220.4Z" fill="#8d5bbf"/>
<path d="M126.9 220.4 L138.3 220.4 L138.3 223.6 L149.6 223.6 L149.6 226.8 L161.0 226.8 L161.0 230.1 L172.3 230.1 L172.3 233.1 L183.7 233.1 L183.7 238.6 L195.1 238.6 L195.1 237.4 L206.4 237.4 L206.4 237.2 L217.8 237.2 L217.8 237.4 L229.1 237.4 L229.1 237.3 L240.5 237.3 L240.5 237.4 L251.9 237.4 L251.9 238.0 L263.2 238.0 L263.2 238.2 L274.6 238.2 L274.6 238.6 L285.9 238.6 L285.9 239.2 L274.6 239.2 L274.6 239.0 L263.2 239.0 L263.2 238.8 L251.9 238.8 L251.9 238.5 L240.5 238.5 L240.5 238.3 L229.1 238.3 L229.1 238.3 L217.8 238.3 L217.8 238.2 L206.4 238.2 L206.4 238.4 L195.1 238.4 L195.1 238.6 L183.7 238.6 L183.7 238.0 L172.3 238.0 L172.3 238.0 L161.0 238.0 L161.0 235.8 L149.6 235.8 L149.6 234.0 L138.3 234.0 L138.3 233.0 L126.9 233.0Z" fill="#632b8c"/>
<path d="M126.9 233.0 L138.3 233.0 L138.3 234.0 L149.6 234.0 L149.6 235.8 L161.0 235.8 L161.0 238.0 L172.3 238.0 L172.3 238.0 L183.7 238.0 L183.7 238.6 L195.1 238.6 L195.1 238.4 L206.4 238.4 L206.4 238.2 L217.8 238.2 L217.8 238.3 L229.1 238.3 L229.1 238.3 L240.5 238.3 L240.5 238.5 L251.9 238.5 L251.9 238.8 L263.2 238.8 L263.2 239.0 L274.6 239.0 L274.6 239.2 L285.9 239.2 L285.9 240.2 L274.6 240.2 L274.6 240.2 L263.2 240.2 L263.2 240.2 L251.9 240.2 L251.9 240.2 L240.5 240.2 L240.5 240.2 L229.1 240.2 L229.1 240.2 L217.8 240.2 L217.8 240.2 L206.4 240.2 L206.4 240.4 L195.1 240.4 L195.1 240.6 L183.7 240.6 L183.7 239.8 L172.3 239.8 L172.3 239.8 L161.0 239.8 L161.0 239.0 L149.6 239.0 L149.6 238.7 L138.3 238.7 L138.3 238.7 L126.9 238.7Z" fill="#3c3c48"/>
<path d="M126.9 238.7 L138.3 238.7 L138.3 238.7 L149.6 238.7 L149.6 239.0 L161.0 239.0 L161.0 239.8 L172.3 239.8 L172.3 239.8 L183.7 239.8 L183.7 240.6 L195.1 240.6 L195.1 240.4 L206.4 240.4 L206.4 240.2 L217.8 240.2 L217.8 240.2 L229.1 240.2 L229.1 240.2 L240.5 240.2 L240.5 240.2 L251.9 240.2 L251.9 240.2 L263.2 240.2 L263.2 240.2 L274.6 240.2 L274.6 240.2 L285.9 240.2 L285.9 246.2 L274.6 246.2 L274.6 246.2 L263.2 246.2 L263.2 246.2 L251.9 246.2 L251.9 246.2 L240.5 246.2 L240.5 246.2 L229.1 246.2 L229.1 246.2 L217.8 246.2 L217.8 246.2 L206.4 246.2 L206.4 246.2 L195.1 246.2 L195.1 246.2 L183.7 246.2 L183.7 246.2 L172.3 246.2 L172.3 246.2 L161.0 246.2 L161.0 246.2 L149.6 246.2 L149.6 246.2 L138.3 246.2 L138.3 246.2 L126.9 246.2Z" fill="#960000"/>
<rect x="126.90" y="233.0" width="11.4" height="5.7" fill="#232323"/>
<rect x="138.26" y="234.0" width="11.4" height="4.7" fill="#232323"/>
<rect x="149.62" y="235.8" width="11.4" height="3.2" fill="#232323"/>
<rect x="160.98" y="238.0" width="11.4" height="1.8" fill="#232323"/>
<rect x="172.34" y="238.0" width="11.4" height="1.8" fill="#232323"/>
<rect x="183.70" y="238.6" width="11.4" height="2.0" fill="#6c6c7a"/>
<rect x="195.06" y="238.4" width="11.4" height="2.0" fill="#6c6c7a"/>
<rect x="206.42" y="238.2" width="11.4" height="2.0" fill="#6c6c7a"/>
<rect x="217.78" y="238.3" width="11.4" height="1.9" fill="#6c6c7a"/>
<rect x="229.14" y="238.3" width="11.4" height="1.9" fill="#6c6c7a"/>
<rect x="240.50" y="238.5" width="11.4" height="1.7" fill="#6c6c7a"/>
<rect x="251.86" y="238.8" width="11.4" height="1.4" fill="#6c6c7a"/>
<rect x="263.22" y="239.0" width="11.4" height="1.2" fill="#6c6c7a"/>
<rect x="274.58" y="239.2" width="11.4" height="1.0" fill="#6c6c7a"/>
<path d="M280.2 171 V246.2" stroke="#e8e8e8" stroke-width="0.6" stroke-dasharray="2 1.4" opacity="0.8"/>
<text x="126.2" y="173.5" font-size="4.4" font-weight="bold" fill="#fff" text-anchor="end" >80</text>
<text x="126.2" y="192.2" font-size="4.4" font-weight="bold" fill="#fff" text-anchor="end" >60</text>
<text x="126.2" y="210.79999999999998" font-size="4.4" font-weight="bold" fill="#fff" text-anchor="end" >40</text>
<text x="126.2" y="229.5" font-size="4.4" font-weight="bold" fill="#fff" text-anchor="end" >20</text>
<text x="126.2" y="247.9" font-size="4.4" font-weight="bold" fill="#fff" text-anchor="end" >0</text>
<text x="132.6" y="251.2" font-size="4.5" font-weight="bold" fill="#fff" text-anchor="middle" >2024</text>
<text x="143.9" y="251.2" font-size="4.5" font-weight="bold" fill="#fff" text-anchor="middle" >2026</text>
<text x="155.3" y="251.2" font-size="4.5" font-weight="bold" fill="#fff" text-anchor="middle" >2028</text>
<text x="166.7" y="251.2" font-size="4.5" font-weight="bold" fill="#fff" text-anchor="middle" >2030</text>
<text x="178.0" y="251.2" font-size="4.5" font-weight="bold" fill="#fff" text-anchor="middle" >2032</text>
<text x="189.4" y="251.2" font-size="4.5" font-weight="bold" fill="#fff" text-anchor="middle" >2034</text>
<text x="200.7" y="251.2" font-size="4.5" font-weight="bold" fill="#fff" text-anchor="middle" >2036</text>
<text x="212.1" y="251.2" font-size="4.5" font-weight="bold" fill="#fff" text-anchor="middle" >2038</text>
<text x="223.5" y="251.2" font-size="4.5" font-weight="bold" fill="#fff" text-anchor="middle" >2040</text>
<text x="234.8" y="251.2" font-size="4.5" font-weight="bold" fill="#fff" text-anchor="middle" >2042</text>
<text x="246.2" y="251.2" font-size="4.5" font-weight="bold" fill="#fff" text-anchor="middle" >2044</text>
<text x="257.5" y="251.2" font-size="4.5" font-weight="bold" fill="#fff" text-anchor="middle" >2046</text>
<text x="268.9" y="251.2" font-size="4.5" font-weight="bold" fill="#fff" text-anchor="middle" >2048</text>
<text x="280.3" y="251.2" font-size="4.5" font-weight="bold" fill="#fff" text-anchor="middle" >2050</text>
<text x="0" y="0" font-size="3.95" fill="#fff" text-anchor="middle" transform="translate(114.7 206.8) rotate(-90)">Generation (MWh)</text>
<g transform="translate(310.7,135.8)"><path d="M0 7.4 V3 L1.4 1 L4.5 0 L4.5 1 L7.4 3 V7.4 Z" fill="#cfcfcf"/><rect x="1" y="4.2" width="5.4" height="0.8" fill="#666"/></g>
<g transform="translate(325.5,135)"><path d="M3.2 0 H5 V3 H7 L4.1 5.6 L1.2 3 H3.2Z" fill="#1fb3ec"/><path d="M0 5.2 V8 H8.2 V5.2 H7.1 V6.5 H1.1 V5.2Z" fill="#1fb3ec"/></g>
<g transform="translate(337.6,134.8)"><path d="M1.8 3.4 V2.4 A1.9 1.9 0 0 1 5.6 2.4 V3.4" fill="none" stroke="#f0161b" stroke-width="1.1"/><rect x="0.4" y="3.4" width="6.6" height="4.4" rx="0.6" fill="#f0161b"/></g>
<path d="M381.9 134.4 Q382.1 136.8 383.8 137.5 M386 134.4 Q385.4 136.6 383.8 137.5 Q382.6 138.4 382 140.0" fill="none" stroke="#fff" stroke-width="1.25" stroke-linecap="round"/>
<text x="390.3" y="139.85" font-size="5.5" font-weight="bold" fill="#fa1a1a" text-anchor="start"  textLength="29.1" lengthAdjust="spacingAndGlyphs">3 Scenarios</text>
<circle cx="432.7" cy="137.6" r="2.9" fill="#fff"/><circle cx="432.7" cy="137.6" r="1.25" fill="#1b1c1c"/><circle cx="432.7" cy="137.6" r="0.45" fill="#fff"/>
<text x="440.2" y="139.85" font-size="5.5" font-weight="bold" fill="#fa1a1a" text-anchor="start"  textLength="12.3" lengthAdjust="spacingAndGlyphs">2050</text>
<path d="M357.9 147.79999999999998 A3.3 3.3 0 1 1 364.1 147.79999999999998 Q361 149.2 357.9 147.79999999999998Z" fill="#fff"/><circle cx="361" cy="146.79999999999998" r="0.9" fill="#1b1c1c"/><path d="M361 146.79999999999998 L362.3 144.39999999999998" stroke="#1b1c1c" stroke-width="0.8"/>
<text x="368.3" y="148.25" font-size="5.5" font-weight="bold" fill="#fa1a1a" text-anchor="start"  textLength="45.8" lengthAdjust="spacingAndGlyphs">Generation (MWh)</text>
<circle cx="428.3" cy="145.6" r="2" fill="none" stroke="#fff" stroke-width="1.2"/><circle cx="431.6" cy="147.9" r="1.3" fill="#fff"/>
<text x="438" y="148.25" font-size="5.5" font-weight="bold" fill="#fa1a1a" text-anchor="start"  textLength="38.0" lengthAdjust="spacingAndGlyphs">5 Technologies</text>
<path d="M403.9 158.3 L401.9 154.7 A2.3 2.3 0 1 1 405.9 154.7 Z" fill="#fff"/><circle cx="403.9" cy="153.8" r="0.85" fill="#1b1c1c"/>
<text x="409.7" y="156.85" font-size="5.5" font-weight="bold" fill="#fa1a1a" text-anchor="start"  textLength="23.6" lengthAdjust="spacingAndGlyphs">All States</text>
<rect x="331.48" y="169.8" width="0.6" height="76.3" fill="#3a3a3a"/>
<rect x="342.84" y="169.8" width="0.6" height="76.3" fill="#3a3a3a"/>
<rect x="354.20" y="169.8" width="0.6" height="76.3" fill="#3a3a3a"/>
<rect x="365.56" y="169.8" width="0.6" height="76.3" fill="#3a3a3a"/>
<rect x="376.92" y="169.8" width="0.6" height="76.3" fill="#3a3a3a"/>
<rect x="388.28" y="169.8" width="0.6" height="76.3" fill="#3a3a3a"/>
<rect x="399.64" y="169.8" width="0.6" height="76.3" fill="#3a3a3a"/>
<rect x="411.00" y="169.8" width="0.6" height="76.3" fill="#3a3a3a"/>
<rect x="422.36" y="169.8" width="0.6" height="76.3" fill="#3a3a3a"/>
<rect x="433.72" y="169.8" width="0.6" height="76.3" fill="#3a3a3a"/>
<rect x="445.08" y="169.8" width="0.6" height="76.3" fill="#3a3a3a"/>
<rect x="456.44" y="169.8" width="0.6" height="76.3" fill="#3a3a3a"/>
<rect x="467.80" y="169.8" width="0.6" height="76.3" fill="#3a3a3a"/>
<rect x="479.16" y="169.8" width="0.6" height="76.3" fill="#3a3a3a"/>
<rect x="326.1" y="169.9" width="159" height="0.6" fill="#3a3a3a"/>
<rect x="326.1" y="182.5" width="159" height="0.6" fill="#3a3a3a"/>
<rect x="326.1" y="195.1" width="159" height="0.6" fill="#3a3a3a"/>
<rect x="326.1" y="207.7" width="159" height="0.6" fill="#3a3a3a"/>
<rect x="326.1" y="220.3" width="159" height="0.6" fill="#3a3a3a"/>
<rect x="326.1" y="232.9" width="159" height="0.6" fill="#3a3a3a"/>
<rect x="326.70" y="234.2" width="3.2" height="11.9" fill="#2d8fe0"/>
<rect x="329.90" y="234.2" width="3.2" height="11.9" fill="#ff8a14"/>
<rect x="333.10" y="234.2" width="3.2" height="11.9" fill="#2fbd35"/>
<rect x="338.06" y="228.0" width="3.2" height="18.1" fill="#2d8fe0"/>
<rect x="341.26" y="227.0" width="3.2" height="19.1" fill="#ff8a14"/>
<rect x="344.46" y="228.0" width="3.2" height="18.1" fill="#2fbd35"/>
<rect x="349.42" y="220.7" width="3.2" height="25.4" fill="#2d8fe0"/>
<rect x="352.62" y="220.7" width="3.2" height="25.4" fill="#ff8a14"/>
<rect x="355.82" y="220.7" width="3.2" height="25.4" fill="#2fbd35"/>
<rect x="360.78" y="215.6" width="3.2" height="30.5" fill="#2d8fe0"/>
<rect x="363.98" y="215.6" width="3.2" height="30.5" fill="#ff8a14"/>
<rect x="367.18" y="215.6" width="3.2" height="30.5" fill="#2fbd35"/>
<rect x="372.14" y="211.4" width="3.2" height="34.7" fill="#2d8fe0"/>
<rect x="375.34" y="207.9" width="3.2" height="38.2" fill="#ff8a14"/>
<rect x="378.54" y="211.4" width="3.2" height="34.7" fill="#2fbd35"/>
<rect x="383.50" y="206.8" width="3.2" height="39.3" fill="#2d8fe0"/>
<rect x="386.70" y="201.0" width="3.2" height="45.1" fill="#ff8a14"/>
<rect x="389.90" y="206.8" width="3.2" height="39.3" fill="#2fbd35"/>
<rect x="394.86" y="203.0" width="3.2" height="43.1" fill="#2d8fe0"/>
<rect x="398.06" y="196.4" width="3.2" height="49.7" fill="#ff8a14"/>
<rect x="401.26" y="203.0" width="3.2" height="43.1" fill="#2fbd35"/>
<rect x="406.22" y="200.2" width="3.2" height="45.9" fill="#2d8fe0"/>
<rect x="409.42" y="195.5" width="3.2" height="50.6" fill="#ff8a14"/>
<rect x="412.62" y="200.2" width="3.2" height="45.9" fill="#2fbd35"/>
<rect x="417.58" y="196.4" width="3.2" height="49.7" fill="#2d8fe0"/>
<rect x="420.78" y="194.2" width="3.2" height="51.9" fill="#ff8a14"/>
<rect x="423.98" y="196.4" width="3.2" height="49.7" fill="#2fbd35"/>
<rect x="428.94" y="193.6" width="3.2" height="52.5" fill="#2d8fe0"/>
<rect x="432.14" y="193.0" width="3.2" height="53.1" fill="#ff8a14"/>
<rect x="435.34" y="193.4" width="3.2" height="52.7" fill="#2fbd35"/>
<rect x="440.30" y="190.7" width="3.2" height="55.4" fill="#2d8fe0"/>
<rect x="443.50" y="191.5" width="3.2" height="54.6" fill="#ff8a14"/>
<rect x="446.70" y="190.0" width="3.2" height="56.1" fill="#2fbd35"/>
<rect x="451.66" y="188.0" width="3.2" height="58.1" fill="#2d8fe0"/>
<rect x="454.86" y="189.0" width="3.2" height="57.1" fill="#ff8a14"/>
<rect x="458.06" y="184.5" width="3.2" height="61.6" fill="#2fbd35"/>
<rect x="463.02" y="185.3" width="3.2" height="60.8" fill="#2d8fe0"/>
<rect x="466.22" y="187.0" width="3.2" height="59.1" fill="#ff8a14"/>
<rect x="469.42" y="177.6" width="3.2" height="68.5" fill="#2fbd35"/>
<rect x="474.38" y="183.2" width="3.2" height="62.9" fill="#2d8fe0"/>
<rect x="477.58" y="185.3" width="3.2" height="60.8" fill="#ff8a14"/>
<rect x="480.78" y="172.9" width="3.2" height="73.2" fill="#2fbd35"/>
<path d="M479.3 169.5 V246.1" stroke="#f0f0f0" stroke-width="0.6" stroke-dasharray="2 1.4" opacity="0.8"/>
<text x="325.4" y="171.79999999999998" font-size="4.4" font-weight="bold" fill="#fff" text-anchor="end" >60</text>
<text x="325.4" y="184.39999999999998" font-size="4.4" font-weight="bold" fill="#fff" text-anchor="end" >50</text>
<text x="325.4" y="196.99999999999997" font-size="4.4" font-weight="bold" fill="#fff" text-anchor="end" >40</text>
<text x="325.4" y="209.6" font-size="4.4" font-weight="bold" fill="#fff" text-anchor="end" >30</text>
<text x="325.4" y="222.2" font-size="4.4" font-weight="bold" fill="#fff" text-anchor="end" >20</text>
<text x="325.4" y="234.79999999999998" font-size="4.4" font-weight="bold" fill="#fff" text-anchor="end" >10</text>
<text x="325.4" y="247.39999999999998" font-size="4.4" font-weight="bold" fill="#fff" text-anchor="end" >0</text>
<text x="331.8" y="251.2" font-size="4.5" font-weight="bold" fill="#fff" text-anchor="middle" >2024</text>
<text x="343.1" y="251.2" font-size="4.5" font-weight="bold" fill="#fff" text-anchor="middle" >2026</text>
<text x="354.5" y="251.2" font-size="4.5" font-weight="bold" fill="#fff" text-anchor="middle" >2028</text>
<text x="365.9" y="251.2" font-size="4.5" font-weight="bold" fill="#fff" text-anchor="middle" >2030</text>
<text x="377.2" y="251.2" font-size="4.5" font-weight="bold" fill="#fff" text-anchor="middle" >2032</text>
<text x="388.6" y="251.2" font-size="4.5" font-weight="bold" fill="#fff" text-anchor="middle" >2034</text>
<text x="399.9" y="251.2" font-size="4.5" font-weight="bold" fill="#fff" text-anchor="middle" >2036</text>
<text x="411.3" y="251.2" font-size="4.5" font-weight="bold" fill="#fff" text-anchor="middle" >2038</text>
<text x="422.7" y="251.2" font-size="4.5" font-weight="bold" fill="#fff" text-anchor="middle" >2040</text>
<text x="434.0" y="251.2" font-size="4.5" font-weight="bold" fill="#fff" text-anchor="middle" >2042</text>
<text x="445.4" y="251.2" font-size="4.5" font-weight="bold" fill="#fff" text-anchor="middle" >2044</text>
<text x="456.7" y="251.2" font-size="4.5" font-weight="bold" fill="#fff" text-anchor="middle" >2046</text>
<text x="468.1" y="251.2" font-size="4.5" font-weight="bold" fill="#fff" text-anchor="middle" >2048</text>
<text x="479.5" y="251.2" font-size="4.5" font-weight="bold" fill="#fff" text-anchor="middle" >2050</text>
<text x="0" y="0" font-size="3.95" fill="#fff" text-anchor="middle" transform="translate(313.8 207) rotate(-90)">Generation (MWh)</text>
<circle cx="314.8" cy="6.4" r="3.6" fill="#f2f2f2"/><path d="M312.6 8.600000000000001 L317.2 4.0 M312.8 4.2 L316.40000000000003 8.200000000000001" stroke="#1b1c1c" stroke-width="0.9"/><circle cx="316.0" cy="5.0" r="0.9" fill="#1b1c1c"/>
<g transform="translate(325.5,2)"><path d="M3.2 0 H5 V3 H7 L4.1 5.6 L1.2 3 H3.2Z" fill="#1fb3ec"/><path d="M0 5.2 V8 H8.2 V5.2 H7.1 V6.5 H1.1 V5.2Z" fill="#1fb3ec"/></g>
<g transform="translate(337.8,2)"><path d="M1.8 3.4 V2.4 A1.9 1.9 0 0 1 5.6 2.4 V3.4" fill="none" stroke="#f0161b" stroke-width="1.1"/><rect x="0.4" y="3.4" width="6.6" height="4.4" rx="0.6" fill="#f0161b"/></g>
<path d="M363.5 2.5999999999999996 Q363.70000000000005 5.0 365.40000000000003 5.699999999999999 M367.6 2.5999999999999996 Q367.0 4.8 365.40000000000003 5.699999999999999 Q364.20000000000005 6.6 363.6 8.2" fill="none" stroke="#fff" stroke-width="1.25" stroke-linecap="round"/>
<text x="372" y="7.550000000000001" font-size="5.5" font-weight="bold" fill="#fa1a1a" text-anchor="start"  textLength="66.2" lengthAdjust="spacingAndGlyphs">Mid-case, current policies</text>
<circle cx="451.4" cy="5.8" r="2.9" fill="#fff"/><circle cx="451.4" cy="5.8" r="1.25" fill="#1b1c1c"/><circle cx="451.4" cy="5.8" r="0.45" fill="#fff"/>
<text x="458.7" y="7.550000000000001" font-size="5.5" font-weight="bold" fill="#fa1a1a" text-anchor="start"  textLength="12.7" lengthAdjust="spacingAndGlyphs">2050</text>
<path d="M356.2 15.4 A3.3 3.3 0 1 1 362.40000000000003 15.4 Q359.3 16.8 356.2 15.4Z" fill="#fff"/><circle cx="359.3" cy="14.4" r="0.9" fill="#1b1c1c"/><path d="M359.3 14.4 L360.6 12.0" stroke="#1b1c1c" stroke-width="0.8"/>
<text x="366.7" y="15.750000000000002" font-size="5.5" font-weight="bold" fill="#fa1a1a" text-anchor="start"  textLength="45.8" lengthAdjust="spacingAndGlyphs">Generation (MWh)</text>
<circle cx="428.0" cy="13.399999999999999" r="2" fill="none" stroke="#fff" stroke-width="1.2"/><circle cx="431.3" cy="15.7" r="1.3" fill="#fff"/>
<text x="436.2" y="15.750000000000002" font-size="5.5" font-weight="bold" fill="#fa1a1a" text-anchor="start"  textLength="40.8" lengthAdjust="spacingAndGlyphs">All Technologies</text>
<path d="M403.6 26.3 L401.6 22.7 A2.3 2.3 0 1 1 405.6 22.7 Z" fill="#fff"/><circle cx="403.6" cy="21.8" r="0.85" fill="#1b1c1c"/>
<text x="410.2" y="25.15" font-size="5.5" font-weight="bold" fill="#fa1a1a" text-anchor="start"  textLength="23.1" lengthAdjust="spacingAndGlyphs">All States</text>
<!--MAP_START-->
<defs><clipPath id="mapclip"><rect x="298" y="26.8" width="196" height="104"/></clipPath></defs>
<g clip-path="url(#mapclip)">
<rect x="298" y="26.8" width="196" height="104" fill="#1b1c1c"/>
<polygon points="315.5,26.8 496,26.8 496,52 484,54 474,58 468,62 440,72 330,72 325,40 318,33" fill="#3a3a3a" />
<polygon points="466,40 474,36 486,36 496,40 496,56 486,55 476,58 470,52" fill="#2c2c2c" />
<polygon points="474,36 480,33 486,35 482,39" fill="#222" />
<polygon points="412,33 418,31 420,35 414,36" fill="#262626" />
<polygon points="436,30 444,29 446,33 438,34" fill="#262626" />
<polygon points="468,58 480,56 496,57 496,131 448,131 448,76 456,70 466,63" fill="#1b1c1c" />
<polygon points="455,33 462,30 468,34 462,38" fill="#2a2a2a" />
<polygon points="345.3,96 351.6,95 363.2,98.4 373,99.2 379.8,105 384.8,104.2 391.4,111.7 393.9,115 393.5,118 391.5,131 370.3,131" fill="#3a3a3a" />
<polygon points="351,99 353.5,98.6 368,119 376,131 372.5,131 364.5,119.5" fill="#2a2a2a" />
<polygon points="420,123 426,121.6 433,122.4 440,124.6 434,125 426,123.6" fill="#3a3a3a" />
<polygon points="325.2,40.1 405,40.1 407,42 416,41.8 426,45 429,49 430,55 433,61.5 438,61 446,57.5 452,52 457,47.5 462.6,45 465,46 468,53 467.9,55.7 463,61 458.8,64.7 453.7,68.1 450,74 448,80 446.7,87.6 443.6,92.8 439.4,94 437.4,98.1 436,104.9 436.7,110.3 436,115.7 433.3,118.5 431.9,117.1 430.6,111.7 429.2,106.9 425.8,103.5 421.7,102.8 413.6,103.5 408.2,104.9 400,104.2 396.4,109.2 393.9,115 391.4,111.7 384.8,104.2 379.8,105 373,99.2 363.2,98.4 351.6,95 343.3,91.8 341,90.2 336.7,86 331.9,81.8 328.2,76.9 325.8,70.9 325.2,64.8 325.8,60 325.5,50" fill="#5a90c5" />
<clipPath id="usclip"><polygon points="325.2,40.1 405,40.1 407,42 416,41.8 426,45 429,49 430,55 433,61.5 438,61 446,57.5 452,52 457,47.5 462.6,45 465,46 468,53 467.9,55.7 463,61 458.8,64.7 453.7,68.1 450,74 448,80 446.7,87.6 443.6,92.8 439.4,94 437.4,98.1 436,104.9 436.7,110.3 436,115.7 433.3,118.5 431.9,117.1 430.6,111.7 429.2,106.9 425.8,103.5 421.7,102.8 413.6,103.5 408.2,104.9 400,104.2 396.4,109.2 393.9,115 391.4,111.7 384.8,104.2 379.8,105 373,99.2 363.2,98.4 351.6,95 343.3,91.8 341,90.2 336.7,86 331.9,81.8 328.2,76.9 325.8,70.9 325.2,64.8 325.8,60 325.5,50" fill="#000" /></clipPath>
<g clip-path="url(#usclip)" stroke="#a8c0d8" stroke-width="0.45" stroke-opacity="0.6">
<polygon points="320,40 345,40 347,53 320,53" fill="#3e8ad3" />
<polygon points="320,53 347,53 346,65.5 320,65.5" fill="#4d8ccb" />
<polygon points="320,65.5 337,65.5 351.2,80.6 353.6,95 320,100" fill="#2288e0" />
<polygon points="337,65.5 351.5,65.5 352,84 351.2,80.6" fill="#6f92b8" />
<polygon points="345,40 349,40 350,48 359,56 359.3,65.5 346,65.5 347,53" fill="#8b8b8c" />
<polygon points="349,40 376.3,40 376.3,56 359,56 350,48" fill="#7d98b3" />
<polygon points="359,56 376.3,56 376.3,71.7 360,71.7 359.3,65.5" fill="#7d98b3" />
<polygon points="351.5,65.5 359.3,65.5 360,71.7 364.7,71.7 364.7,81.6 352,81.6" fill="#7090b0" />
<polygon points="364.7,71.7 380.5,71.7 380.5,81.6 364.7,81.6" fill="#7d98b3" />
<polygon points="352,81.6 364.7,81.6 364.7,98.5 351.6,95 352,88" fill="#3a8ad6" />
<polygon points="364.7,81.6 378.6,81.6 378.6,99.5 364.7,98.5" fill="#8da0b5" />
<polygon points="376.3,40 396,40 396,51 376.3,51" fill="#4a8ccc" />
<polygon points="376.3,51 396,51 395.6,62.6 376.3,62.6" fill="#8d9aa5" />
<polygon points="376.3,62.6 395.6,62.6 398,71.7 376.3,71.7" fill="#7d98b3" />
<polygon points="380.5,71.7 399,71.7 400,81.6 380.5,81.6" fill="#7d98b3" />
<polygon points="378.6,81.6 400,81.6 401,88 378.6,88" fill="#5590c8" />
<polygon points="376,88 401,88 403,103.5 396,110 394,116 376,116" fill="#3a8ad6" />
<polygon points="396,40 407,42 409,48 408,62 395.6,62.6" fill="#5a90c5" />
<polygon points="395.6,62.6 412,62 413,70 398,71.7" fill="#6d95bf" />
<polygon points="398,71.7 413,70 416,83 400,83" fill="#4a8ccc" />
<polygon points="400,83 415,83 415,92 402,92" fill="#7d98b3" />
<polygon points="402,92 415,92 416.6,104.2 402,104" fill="#3a8ad6" />
<polygon points="408,47 418,48 418,62 408,62 409,48" fill="#5a90c5" />
<polygon points="412,62 419,62 420,80 416,83 413,70" fill="#3a8ad6" />
<polygon points="409,46 428,48 434,50 434,66 420,66 419,50" fill="#2a88e0" />
<polygon points="419,66 426,66 426,78 420,80" fill="#5a90c5" />
<polygon points="426,66 436,64 436,72 429.4,76 426,78" fill="#3a8ad6" />
<polygon points="416,83 420,80 429.4,76 436,79 438,82" fill="#6d95bf" />
<polygon points="415,82 438,82 438,87 414,87" fill="#6d95bf" />
<polygon points="414,87 420,87 420,103 414,103" fill="#8da0b5" />
<polygon points="420,87 427,87 427,101 420,101" fill="#5a90c5" />
<polygon points="427,87 438,87 441,100 427,101" fill="#3a8ad6" />
<polygon points="422,100 441,100 437,120 432,120 429,106" fill="#3a8ad6" />
<polygon points="438,80 448,80 447,88 438,87" fill="#5a90c5" />
<polygon points="429.4,71.5 436,70 441,72 440.7,80 433,80 429.4,76" fill="#8d8d8d" />
<polygon points="441,72 448,72 448,80 440.7,80" fill="#3a8ad6" />
<polygon points="433,66 452,66 452,72 436,72" fill="#2a88e0" />
<polygon points="438,56 453,52 453.7,68.1 438,66" fill="#2a88e0" />
<polygon points="453,50 462.6,45 468,53 467.9,55.7 458.8,64.7 453.7,68.1" fill="#a0a0a0" />
</g>
<polygon points="406,46.5 411,43.5 418,42.6 426,45.5 428.5,48.5 424,47.2 418,45.6 411,46.8" fill="#1b1c1c" />
<polygon points="417.6,51.5 420.2,51.5 419.6,58 420,64.5 417.8,64.5 417,58" fill="#1b1c1c" />
<polygon points="426.8,49 429.8,50.2 430.8,56 431.4,62.4 429.2,62.2 428,56" fill="#1b1c1c" />
<polygon points="430,66.3 437,63.8 443.2,61.6 442.2,63.6 436,66.2 431,67.4" fill="#1b1c1c" />
<polygon points="437,59.2 442,57.6 446,57.6 444.4,59.6 438,60.4" fill="#1b1c1c" />
<text x="342.7" y="31.2" font-size="4.6" fill="#e6e6e6" stroke="#111" stroke-width="0.6" stroke-opacity="0.6" paint-order="stroke">Calgary</text>
<circle cx="351.5" cy="33" r="0.7" fill="#fff"/>
<text x="317.3" y="37.9" font-size="4.6" fill="#e6e6e6" stroke="#111" stroke-width="0.6" stroke-opacity="0.6" paint-order="stroke">Vancouver</text>
<circle cx="328.5" cy="40" r="0.7" fill="#fff"/>
<text x="298.6" y="78.9" font-size="4.6" fill="#e6e6e6" stroke="#111" stroke-width="0.6" stroke-opacity="0.6" paint-order="stroke">San Francisco</text>
<text x="327.6" y="88.5" font-size="4.6" fill="#c9b49c" stroke="#111" stroke-width="0.6" stroke-opacity="0.6" paint-order="stroke">Los Angeles</text>
<text x="372.7" y="120.3" font-size="4.6" fill="#8a8a8a" stroke="#111" stroke-width="0.6" stroke-opacity="0.6" paint-order="stroke">Mexico</text>
<text x="449" y="46.5" font-size="4.6" fill="#e6e6e6" stroke="#111" stroke-width="0.6" stroke-opacity="0.6" paint-order="stroke">Quebec</text>
<circle cx="457.8" cy="49.2" r="0.8" fill="#fff"/>
<text x="440" y="57.9" font-size="4.6" fill="#e6e6e6" stroke="#111" stroke-width="0.6" stroke-opacity="0.6" paint-order="stroke">Toronto</text>
<circle cx="437.3" cy="60.2" r="0.8" fill="#fff"/>
<text x="460" y="63.8" font-size="4.6" fill="#e6e6e6" stroke="#111" stroke-width="0.6" stroke-opacity="0.6" paint-order="stroke">Boston</text>
<text x="432.6" y="125" font-size="4.6" fill="#9a9a9a" stroke="#111" stroke-width="0.6" stroke-opacity="0.6" paint-order="stroke">Cuba</text>
<text x="397" y="129.4" font-size="3" fill="#2a6fd8" textLength="92" lengthAdjust="spacingAndGlyphs">Leaflet | © Mapbox © OpenStreetMap Improve this map</text>
</g>
<rect x="479.5" y="30" width="12.2" height="12.3" rx="1.5" fill="#f2f2f2"/>
<path d="M485.6 32.6 L489 34.4 V38.4 L485.6 40.2 L482.2 38.4 V34.4Z" fill="#c8c8c8"/><path d="M482.2 34.4 L485.6 36.2 L489 34.4 M485.6 36.2 V40.2" stroke="#eee" stroke-width="0.5" fill="none"/>
<ellipse cx="487.8" cy="47.2" rx="2.6" ry="1.9" fill="#f0f0f0"/><rect x="486.4" y="46.8" width="2.8" height="0.7" fill="#555"/>
<rect x="447.9" y="71" width="42.9" height="51" rx="2" fill="#2e2e2e" fill-opacity="0.92" stroke="#8a8a8a" stroke-width="0.7"/>
<text x="450.2" y="76.9" font-size="4.65" fill="#f4f4f4" stroke="#f4f4f4" stroke-width="0.15">Generation (MWh)</text>
<rect x="451.4" y="85.5" width="4.3" height="4.3" fill="#1e88e5"/>
<text x="457.4" y="89.19999999999999" font-size="4.6" font-weight="bold" fill="#f0f0f0" textLength="5.4" lengthAdjust="spacingAndGlyphs">&lt;=</text>
<text x="464.5" y="89.35" font-size="4.85" font-weight="bold" fill="#f4f4f4">215M</text>
<rect x="451.4" y="92.4" width="4.3" height="4.3" fill="#3b93dd"/>
<text x="457.4" y="96.1" font-size="4.6" font-weight="bold" fill="#f0f0f0" textLength="5.4" lengthAdjust="spacingAndGlyphs">&lt;=</text>
<text x="464.5" y="96.25" font-size="4.85" font-weight="bold" fill="#f4f4f4">152M</text>
<rect x="451.4" y="99.4" width="4.3" height="4.3" fill="#5da2d8"/>
<text x="457.4" y="103.1" font-size="4.6" font-weight="bold" fill="#f0f0f0" textLength="5.4" lengthAdjust="spacingAndGlyphs">&lt;=</text>
<text x="464.5" y="103.25" font-size="4.85" font-weight="bold" fill="#f4f4f4">85.1M</text>
<rect x="451.4" y="106.30000000000001" width="4.3" height="4.3" fill="#7facd0"/>
<text x="457.4" y="110.0" font-size="4.6" font-weight="bold" fill="#f0f0f0" textLength="5.4" lengthAdjust="spacingAndGlyphs">&lt;=</text>
<text x="464.5" y="110.15" font-size="4.85" font-weight="bold" fill="#f4f4f4">60.7M</text>
<rect x="451.4" y="113.4" width="4.3" height="4.3" fill="#a9a9a9"/>
<text x="457.4" y="117.1" font-size="4.6" font-weight="bold" fill="#f0f0f0" textLength="5.4" lengthAdjust="spacingAndGlyphs">&lt;=</text>
<text x="464.5" y="117.25" font-size="4.85" font-weight="bold" fill="#f4f4f4">14.0M</text>
<!--MAP_END-->
</svg>
<!-- PANELS_END -->
</div>
</body></html>
